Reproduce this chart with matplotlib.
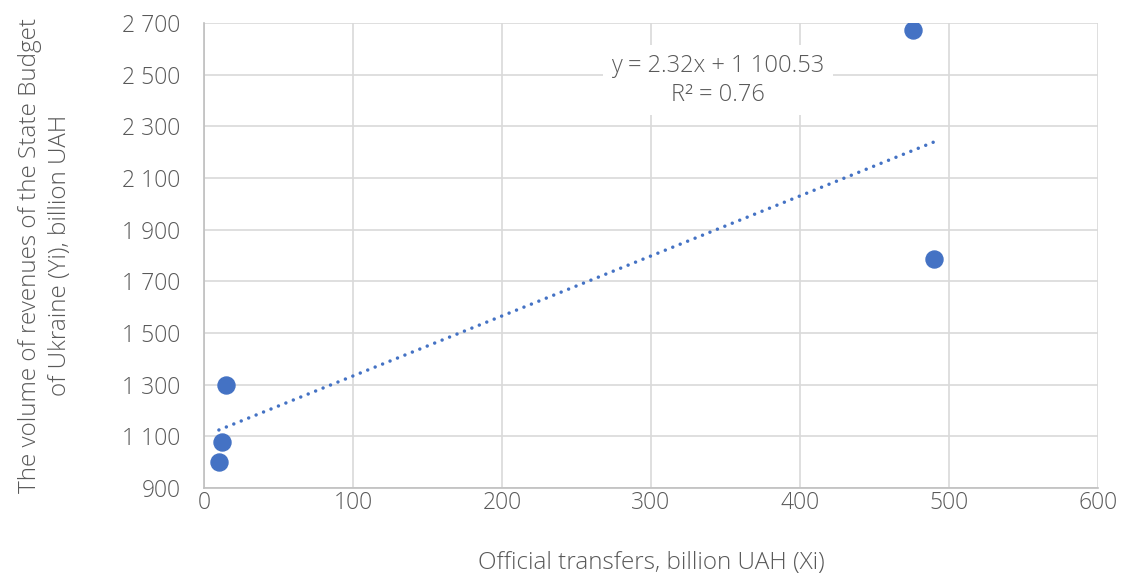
import numpy as np
import matplotlib.pyplot as plt
from matplotlib.ticker import FuncFormatter

plt.rcParams['font.family'] = ['Open Sans', 'DejaVu Sans']
plt.rcParams['font.weight'] = 'light'
plt.rcParams['axes.labelweight'] = 'light'

transfers = np.array([10, 12, 15, 476, 490])
revenues = np.array([1001, 1078, 1299, 2673, 1786])
eq_label = "y = 2.32x + 1 100.53\nR² = 0.76"

slope, intercept = np.polyfit(transfers, revenues, 1)

fig = plt.figure(figsize=(11.23, 5.79), dpi=100)
ax = fig.add_axes([204 / 1123, 1 - 488 / 579, (1098 - 204) / 1123, (488 - 23) / 579])

grey = '#595959'
fs = 16.5
ax.grid(True, color='#d9d9d9', linewidth=1.2)
ax.set_axisbelow(True)

xs = np.array([transfers.min(), transfers.max()])
ax.plot(xs, slope * xs + intercept, linestyle=(0, (0.01, 2.3)), color='#4472c4',
        linewidth=2.5, dash_capstyle='round')
ax.scatter(transfers, revenues, s=150, color='#4472c4', zorder=3)

ax.set_xlim(0, 600)
ax.set_ylim(900, 2700)
ax.set_xticks(np.arange(0, 601, 100))
ax.set_yticks(np.arange(900, 2701, 200))
ax.yaxis.set_major_formatter(FuncFormatter(lambda v, p: f"{int(v):,}".replace(',', ' ')))

for s in ['top', 'right']:
    ax.spines[s].set_visible(False)
for s in ['left', 'bottom']:
    ax.spines[s].set_color('#bfbfbf')
    ax.spines[s].set_linewidth(1.2)
ax.tick_params(length=0, labelsize=fs, colors=grey)
ax.tick_params(axis='y', pad=17)
ax.tick_params(axis='x', pad=2)

ax.set_xlabel("Official transfers, billion UAH (Xi)", fontsize=17.5, color=grey,
              labelpad=26, fontweight='light')
ax.set_ylabel("The volume of revenues of the State Budget\nof Ukraine (Yi), billion UAH",
              fontsize=17.5, color=grey, labelpad=36, linespacing=1.35, fontweight='light')

ax.text(345, 2478, eq_label, fontsize=17, color=grey, ha='center', va='center',
        linespacing=1.3, bbox=dict(facecolor='white', edgecolor='none', pad=6))

fig.savefig('out.png', dpi=100)
